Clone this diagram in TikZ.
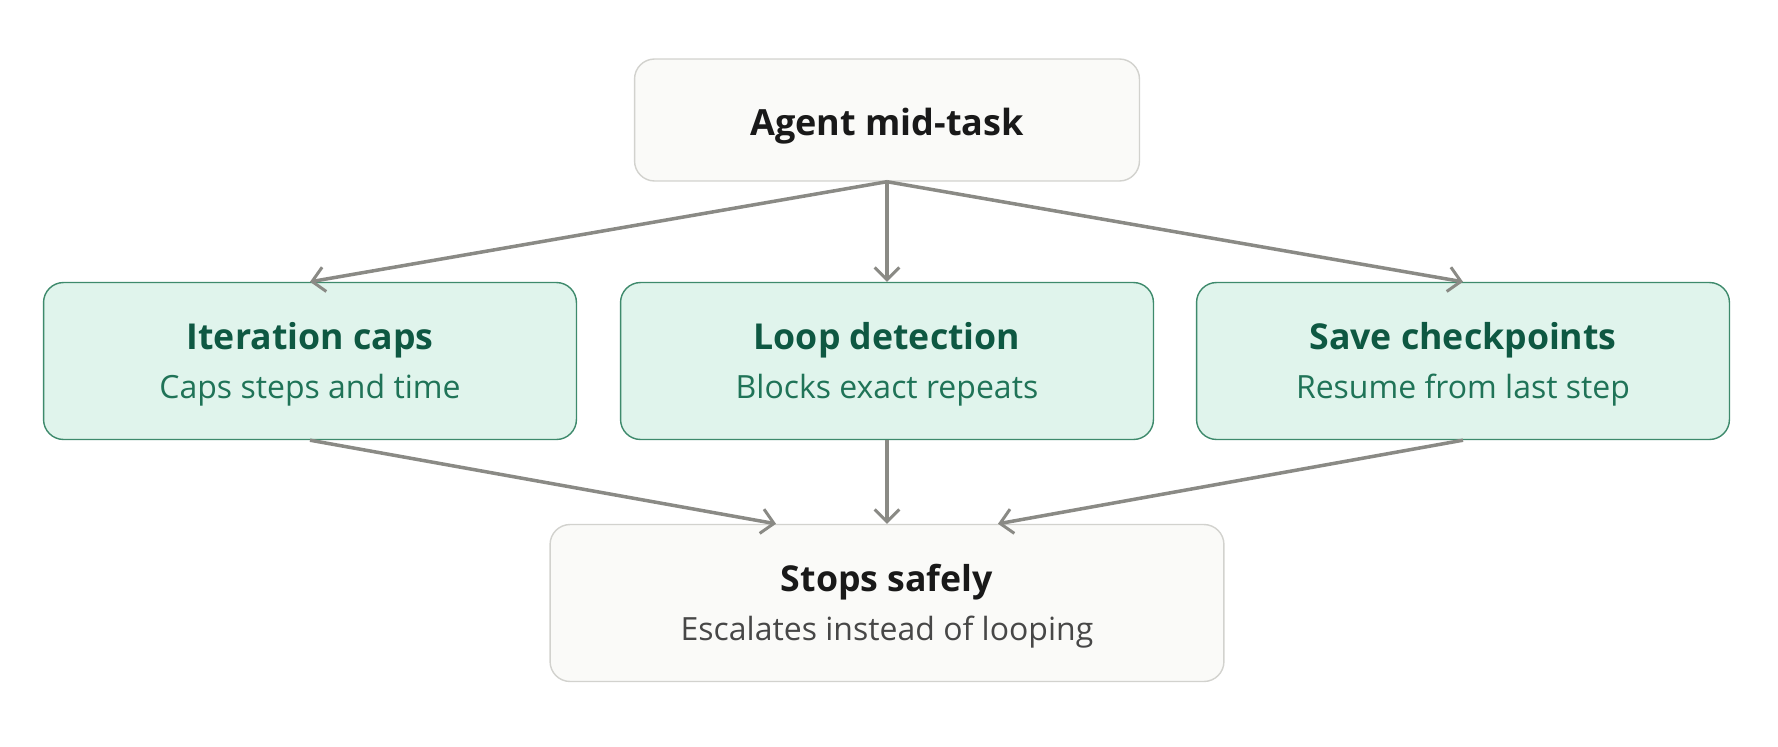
\documentclass[tikz,border=0pt]{standalone}
\usepackage{fontspec}
\setmainfont{Open Sans}
\usetikzlibrary{arrows.meta}
\usetikzlibrary{positioning}

\definecolor{plainfill}{HTML}{FAFAF8}
\definecolor{plainline}{HTML}{D2D2CE}
\definecolor{guardfill}{HTML}{E0F4EC}
\definecolor{guardline}{HTML}{3E8A6C}
\definecolor{guardtitle}{HTML}{0E5842}
\definecolor{guardsub}{HTML}{1F7357}
\definecolor{arrowgray}{HTML}{8A8A85}

\begin{document}
\begin{tikzpicture}[x=0.02cm, y=-0.02cm,
      box/.style={rounded corners=0.4cm, line width=0.8pt, align=center,
        inner sep=0pt},
      plainbox/.style={box, draw=plainline, fill=plainfill},
      guardbox/.style={box, draw=guardline, fill=guardfill,
        minimum width=10.66cm, minimum height=3.14cm},
      flow/.style={draw=arrowgray, line width=2pt,
        -{Straight Barb[length=7pt, width=14pt, line width=1.7pt]}},
      ]
      \useasboundingbox (0,0) rectangle (1778,747);
      % start
      \node[plainbox, minimum width=10.1cm, minimum height=2.44cm] (agent) at (887,120)
        {\fontsize{20.5}{24}\selectfont\bfseries\color{black!90}\rule{0pt}{22pt}Agent mid-task};
      % guards
      \node[guardbox] (caps) at (310,361)
        {{\fontsize{20.3}{24}\selectfont\bfseries\color{guardtitle}\rule{0pt}{19.5pt}Iteration caps}\\[8pt]
         {\fontsize{18.2}{22}\selectfont\color{guardsub} Caps steps and time}};
      \node[guardbox] (loop) at (887,361)
        {{\fontsize{20.3}{24}\selectfont\bfseries\color{guardtitle}\rule{0pt}{19.5pt}Loop detection}\\[8pt]
         {\fontsize{18.2}{22}\selectfont\color{guardsub} Blocks exact repeats}};
      \node[guardbox] (save) at (1463,361)
        {{\fontsize{20.3}{24}\selectfont\bfseries\color{guardtitle}\rule{0pt}{19.5pt}Save checkpoints}\\[8pt]
         {\fontsize{18.2}{22}\selectfont\color{guardsub} Resume from last step}};
      % result
      \node[plainbox, minimum width=13.48cm, minimum height=3.14cm] (stop) at (887,603)
        {{\fontsize{20.3}{24}\selectfont\bfseries\color{black!90}\rule{0pt}{19.5pt}Stops safely}\\[8pt]
         {\fontsize{18.2}{22}\selectfont\color{black!72} Escalates instead of looping}};

      \draw[flow] (agent.south) -- (caps.north);
      \draw[flow] (agent.south) -- (loop.north);
      \draw[flow] (agent.south) -- (save.north);
      \draw[flow] (caps.south) -- ([xshift=-2.22cm]stop.north);
      \draw[flow] (loop.south) -- (stop.north);
      \draw[flow] (save.south) -- ([xshift=2.22cm]stop.north);
    \end{tikzpicture}
\end{document}
